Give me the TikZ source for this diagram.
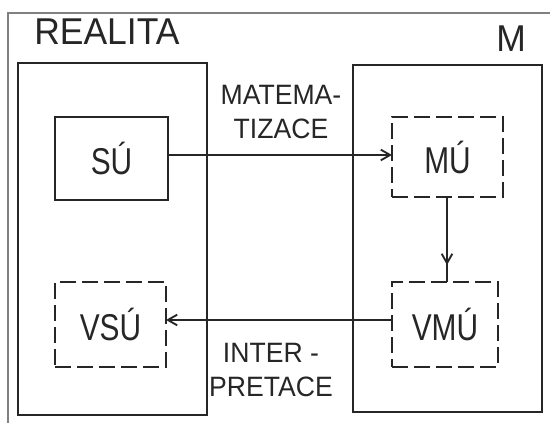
\documentclass[tikz,border=0pt]{standalone}
\usepackage{fontspec}
\setmainfont{Liberation Sans}
\newfontfamily\boxfont[FakeStretch=0.8]{Liberation Sans}
\newfontfamily\labfont[FakeStretch=0.95]{Liberation Sans}
\usetikzlibrary{fit,arrows.meta,decorations.markings}
\definecolor{ink}{HTML}{262626}
\begin{document}
\begin{tikzpicture}[x=0.75pt,y=-0.75pt,
  solidbox/.style={draw=ink,line width=2.2pt,inner sep=0pt,
    font=\boxfont\fontsize{28}{30}\selectfont,text=ink},
  dashbox/.style={solidbox,dash pattern=on 12pt off 4.5pt},
  bigbox/.style={draw=ink,line width=2.2pt,inner sep=0pt},
  conn/.style={draw=ink,line width=1.4pt},
  tip/.style={-{Straight Barb[length=7pt,width=8pt,line width=1.4pt]}},
  lab/.style={font=\labfont\fontsize{21}{25}\selectfont,text=ink,align=center,inner sep=0pt},
  title/.style={font=\labfont\fontsize{28}{30}\selectfont,text=ink,inner sep=0pt,anchor=base west}]
\useasboundingbox (0,0) rectangle (550,423);
% outer frame (cropped)
\draw[gray,line width=1.2pt] (8,423) -- (8,13) -- (550,13);
% big boxes
\node[bigbox,fit={(18,63) (207,415)}] (R) {};
\node[bigbox,fit={(353,65) (542,412)}] (M) {};
% titles
\node[title] (realita) at (34,45) {REALITA};
\node[title] (mlabel) at (496,52) {M};
% inner boxes
\node[solidbox,fit={(55,117) (168,200)}] (SU) {};
\node[font=\boxfont\fontsize{28}{30}\selectfont,text=ink] at (SU.center) {SÚ};
\node[dashbox,fit={(392,117) (503,197)}] (MU) {};
\node[font=\boxfont\fontsize{28}{30}\selectfont,text=ink] at (MU.center) {MÚ};
\node[dashbox,fit={(55,282) (166,367)}] (VSU) {};
\node[font=\boxfont\fontsize{28}{30}\selectfont,text=ink] at (VSU.center) {VSÚ};
\node[dashbox,fit={(392,282) (498,367)}] (VMU) {};
\node[font=\boxfont\fontsize{28}{30}\selectfont,text=ink] at (VMU.center) {VMÚ};
% connector labels
\node[lab] (mat) at (281,112) {MATEMA-\\TIZACE};
\node[lab] (int) at (271,370) {INTER -\\PRETACE};
% connectors
\coordinate (a1) at (168,155);
\coordinate (a2) at (392,155);
\draw[conn,tip] (a1) -- (a2);
\coordinate (b1) at (392,320);
\coordinate (b2) at (166,320);
\draw[conn,tip] (b1) -- (b2);
\coordinate (c1) at (447,197);
\coordinate (c2) at (447,282);
\draw[conn,postaction={decorate},decoration={markings,
  mark=at position 0.8 with {\arrow{Straight Barb[length=7pt,width=8pt,line width=1.4pt]}}}] (c1) -- (c2);
\end{tikzpicture}
\end{document}
